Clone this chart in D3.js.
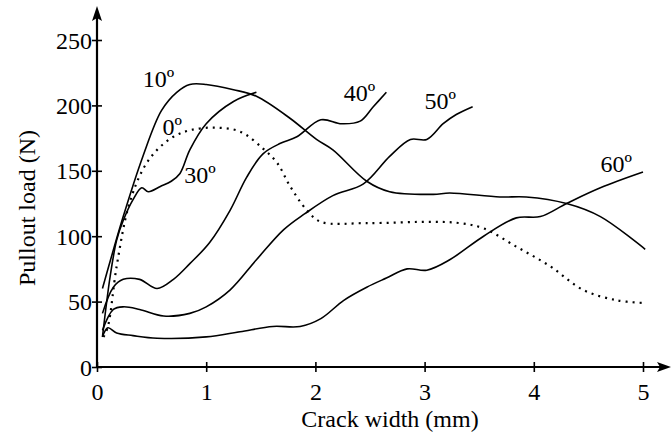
<!DOCTYPE html>
<html>
<head>
<meta charset="utf-8">
<script src="https://cdn.jsdelivr.net/npm/d3@7"></script>
<style>
  body { margin: 0; background: #fff; }
  svg { display: block; }
</style>
</head>
<body>
<svg id="chart" width="671" height="435"></svg>
<script>
// data: [crack width (mm), pullout load (N)]
var xTicks = [0, 1, 2, 3, 4, 5];
var yTicks = [0, 50, 100, 150, 200, 250];

var deg0 = [[0.06,23],[0.10,31],[0.18,77],[0.29,123],[0.42,151],[0.55,166],[0.70,176],[0.85,181],[1.07,183],[1.31,180],[1.52,167],[1.65,156],[1.77,138],[1.92,120],[2.05,111],[2.47,110],[3.08,111],[3.32,110],[3.54,106],[3.84,92],[4.15,77],[4.45,59],[4.76,51],[5.0,49]];
var deg10 = [[0.05,60],[0.24,115],[0.42,161],[0.59,196],[0.73,210],[0.85,216],[1.0,216],[1.25,212],[1.46,207],[1.77,190],[2.01,174],[2.16,166],[2.47,142],[2.68,134],[3.08,132],[3.23,133],[3.69,130],[3.93,130],[4.30,125],[4.61,115],[5.02,90]];
var deg30 = [[0.05,23],[0.12,69],[0.18,97],[0.24,112],[0.33,128],[0.41,137],[0.47,134],[0.58,138],[0.68,142],[0.76,148],[0.85,166],[1.0,186],[1.25,203],[1.46,210]];
var deg40 = [[0.05,41],[0.15,61],[0.24,67],[0.39,67],[0.55,60],[0.70,67],[0.85,79],[1.03,95],[1.22,120],[1.37,145],[1.52,163],[1.68,171],[1.83,176],[2.05,189],[2.24,186],[2.41,188],[2.53,199],[2.65,210]];
var deg50 = [[0.05,28],[0.15,44],[0.24,46],[0.39,44],[0.61,39],[0.85,41],[1.0,46],[1.22,59],[1.46,82],[1.71,105],[1.90,117],[2.16,131],[2.44,140],[2.68,161],[2.87,174],[3.02,174],[3.17,186],[3.29,193],[3.44,199]];
var deg60 = [[0.05,23],[0.10,30],[0.18,26],[0.33,24],[0.55,22],[1.0,23],[1.31,27],[1.61,31],[1.86,31],[2.05,37],[2.26,51],[2.47,61],[2.65,68],[2.84,75],[3.02,74],[3.23,82],[3.54,100],[3.84,114],[4.06,115],[4.30,125],[4.61,137],[5.0,149]];

var seriesNames = ["0º", "10º", "30º", "40º", "50º", "60º"];
var seriesData = [deg0, deg10, deg30, deg40, deg50, deg60];
var seriesDotted = [true, false, false, false, false, false];
// label anchor in data units (left, baseline)
var labelPos = [[0.60, 177], [0.42, 214], [0.80, 141], [2.26, 203], [3.0, 197], [4.61, 149]];

var font = "\"Liberation Serif\", \"Times New Roman\", serif";
var fontSize = "24px";
var svg = d3.select("#chart");
var x0 = 97, y0 = 367;

var x = d3.scaleLinear().domain([0, 5]).range([x0, 643]);
var y = d3.scaleLinear().domain([0, 250]).range([y0, 40]);

// axes, ticks cross the axis line
var xAxis = d3.axisBottom(x).tickValues(xTicks).tickFormat(d3.format("d")).tickSize(0).tickPadding(0);
var yAxis = d3.axisLeft(y).tickValues(yTicks).tickFormat(d3.format("d")).tickSize(0).tickPadding(0);

var gx = svg.append("g").attr("transform", "translate(0," + y0 + ")").call(xAxis);
gx.select(".domain").remove();
gx.selectAll(".tick line").attr("y1", -5).attr("y2", 5).attr("stroke", "#000").attr("stroke-width", 1.6);
gx.selectAll(".tick text").attr("y", 33).attr("dy", 0).attr("fill", "#000")
    .style("font-family", font).style("font-size", fontSize);

var gy = svg.append("g").attr("transform", "translate(" + x0 + ",0)").call(yAxis);
gy.select(".domain").remove();
gy.selectAll(".tick line").attr("x1", -5).attr("x2", 5).attr("stroke", "#000").attr("stroke-width", 1.6);
gy.selectAll(".tick text").attr("x", -5).attr("dy", "0.34em").attr("fill", "#000")
    .style("font-family", font).style("font-size", fontSize);

// axis lines with arrows
svg.append("line").attr("x1", x0).attr("x2", 664).attr("y1", y0).attr("y2", y0)
    .attr("stroke", "#000").attr("stroke-width", 2.2);
svg.append("path").attr("d", "M671," + y0 + "L657," + (y0 - 5) + "L660," + y0 + "L657," + (y0 + 5) + "Z").attr("fill", "#000");
svg.append("line").attr("x1", x0).attr("x2", x0).attr("y1", y0 + 1).attr("y2", 16)
    .attr("stroke", "#000").attr("stroke-width", 2.2);
svg.append("path").attr("d", "M" + x0 + ",6L" + (x0 - 5) + ",21L" + x0 + ",18L" + (x0 + 5) + ",21Z").attr("fill", "#000");

// axis titles
svg.append("text").attr("x", 390).attr("y", 427).attr("text-anchor", "middle").attr("fill", "#000")
    .style("font-family", font).style("font-size", fontSize).text("Crack width (mm)");
svg.append("text").attr("transform", "translate(35,208) rotate(-90)").attr("text-anchor", "middle").attr("fill", "#000")
    .style("font-family", font).style("font-size", fontSize).text("Pullout load (N)");

// curves
var line = d3.line().x(d => x(d[0])).y(d => y(d[1])).curve(d3.curveCatmullRom.alpha(0.5));

svg.selectAll(".curve")
    .data(seriesData)
    .enter().append("path")
    .attr("class", "curve")
    .attr("d", d => line(d))
    .attr("fill", "none")
    .attr("stroke", "#000")
    .attr("stroke-width", (d, i) => seriesDotted[i] ? 2.2 : 1.6)
    .attr("stroke-dasharray", (d, i) => seriesDotted[i] ? "2,5" : null);

// curve labels
svg.selectAll(".lbl")
    .data(seriesNames)
    .enter().append("text")
    .attr("class", "lbl")
    .attr("x", (d, i) => x(labelPos[i][0]))
    .attr("y", (d, i) => y(labelPos[i][1]))
    .attr("fill", "#000")
    .style("font-family", font).style("font-size", fontSize)
    .text(d => d);
</script>
</body>
</html>
